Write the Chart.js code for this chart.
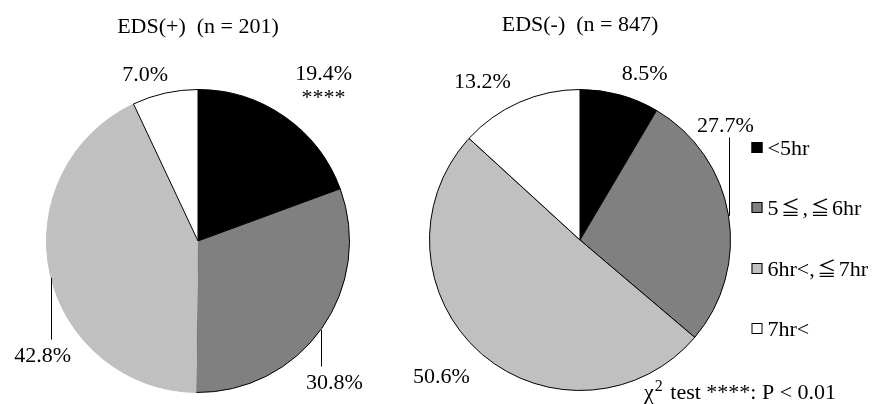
<!DOCTYPE html>
<html>
<head>
<meta charset="utf-8">
<script src="https://cdn.jsdelivr.net/npm/chart.js@4/dist/chart.umd.min.js"></script>
<style>
  html, body { margin: 0; padding: 0; background: #ffffff; }
  #wrap { position: relative; width: 875px; height: 404px; overflow: hidden; background: #fff; }
  #left { position: absolute; left: 0; top: 0; }
  #right { position: absolute; left: 400px; top: 0; }
</style>
</head>
<body>
<div id="wrap">
  <canvas id="left" width="437" height="404"></canvas>
  <canvas id="right" width="475" height="404"></canvas>
</div>
<script>
// ---- data ----
const categories = ['<5hr', '5\u2266,\u22666hr', '6hr<,\u22667hr', '7hr<'];
const edsPosValues = [19.4, 30.8, 42.8, 7.0];
const edsNegValues = [8.5, 27.7, 50.6, 13.2];
const edsPosTitle = 'EDS(+)  (n = 201)';
const edsNegTitle = 'EDS(-)  (n = 847)';
const edsPosMarks = ['****', '', '', ''];
const footnote = ' test ****: P < 0.01';

// ---- styles ----
const sliceColors = ['#000000', '#808080', '#c0c0c0', '#ffffff'];
const FONT = '22px "Liberation Serif", "Times New Roman", serif';
const CJK_FONT = '19px "Noto Sans CJK JP", "Noto Sans CJK SC", sans-serif';
const CJK_CELL = 24;

// label layout: offsets in units of pie radius from pie centre (text centre x, baseline y)
const leftLabelLayout = [
  {dx: 0.829, dy: -1.066},
  {dx: 0.901, dy: 0.974, lx: 0.809, leader: 'down'},
  {dx: -1.026, dy: 0.796, lx: -0.970, leader: 'down'},
  {dx: -0.349, dy: -1.059}
];
const rightLabelLayout = [
  {dx: 0.43, dy: -1.06},
  {dx: 0.967, dy: -0.715, lx: 0.987, leader: 'up'},
  {dx: -0.921, dy: 0.947},
  {dx: -0.649, dy: -1.007}
];

// draw text where full-width symbols occupy a full-width cell
function drawMixed(ctx, text, x, y) {
  let cx = x;
  for (const ch of text) {
    if (ch === '\u2266') {
      ctx.font = CJK_FONT;
      const w = ctx.measureText(ch).width;
      ctx.fillText(ch, cx + (CJK_CELL - w) / 2, y);
      cx += CJK_CELL;
    } else {
      ctx.font = FONT;
      ctx.fillText(ch, cx, y);
      cx += ctx.measureText(ch).width;
    }
  }
  ctx.font = FONT;
}

function labelPlugin(layout, title, titleBaselineOffset, marks) {
  return {
    id: 'pieLabels',
    afterDraw(chart) {
      const ctx = chart.ctx;
      const meta = chart.getDatasetMeta(0);
      const arc0 = meta.data[0];
      const cx = arc0.x, cy = arc0.y, r = arc0.outerRadius;
      const values = chart.data.datasets[0].data;
      ctx.save();
      ctx.font = FONT;
      ctx.fillStyle = '#000';
      ctx.textAlign = 'center';
      ctx.textBaseline = 'alphabetic';
      ctx.fillText(title, cx, cy - r + titleBaselineOffset);
      values.forEach((v, i) => {
        const L = layout[i];
        const tx = cx + L.dx * r, ty = cy + L.dy * r;
        ctx.fillText(v.toFixed(1) + '%', tx, ty);
        if (marks && marks[i]) ctx.fillText(marks[i], tx, ty + 24);
        if (L.leader) {
          const lx = cx + L.lx * r;
          const ddx = lx - cx;
          const h = Math.sqrt(Math.max(r * r - ddx * ddx, 0));
          ctx.beginPath();
          ctx.strokeStyle = '#000';
          ctx.lineWidth = 1;
          const px = Math.round(lx) + 0.5;
          if (L.leader === 'down') {
            ctx.moveTo(px, cy + h);
            ctx.lineTo(px, ty - 22);
          } else {
            ctx.moveTo(px, ty + 5);
            ctx.lineTo(px, cy - h);
          }
          ctx.stroke();
        }
      });
      ctx.restore();
    }
  };
}

const legendPlugin = {
  id: 'customLegend',
  afterDraw(chart) {
    const ctx = chart.ctx;
    const meta = chart.getDatasetMeta(0);
    const arc0 = meta.data[0];
    const cx = arc0.x, cy = arc0.y, r = arc0.outerRadius;
    ctx.save();
    ctx.font = FONT;
    ctx.textAlign = 'left';
    ctx.textBaseline = 'alphabetic';
    const x0 = cx + r + 21;
    const y0 = cy - 98;
    const step = 60.3;
    chart.data.labels.forEach((lab, i) => {
      const y = Math.round(y0 + i * step);
      ctx.fillStyle = sliceColors[i];
      ctx.fillRect(x0, y, 11, 11);
      ctx.strokeStyle = '#000';
      ctx.lineWidth = 1;
      ctx.strokeRect(x0 + 0.5, y + 0.5, 10, 10);
      ctx.fillStyle = '#000';
      drawMixed(ctx, lab, x0 + 16, y + 13);
    });
    // footnote with chi-square
    const fx = cx + 64, fy = chart.height - 5;
    ctx.font = FONT;
    ctx.fillText('\u03C7', fx, fy);
    const wChi = ctx.measureText('\u03C7').width;
    ctx.font = '16px "Liberation Serif", "Times New Roman", serif';
    ctx.fillText('2', fx + wChi + 1, fy - 8);
    const w2 = ctx.measureText('2').width;
    ctx.font = FONT;
    ctx.fillText(footnote, fx + wChi + w2 + 3, fy);
    ctx.restore();
  }
};

function makePie(id, values, borders, padding, plugins) {
  return new Chart(document.getElementById(id), {
    type: 'pie',
    data: {
      labels: categories,
      datasets: [{
        data: values,
        backgroundColor: sliceColors,
        borderColor: borders,
        borderWidth: 1
      }]
    },
    options: {
      responsive: false,
      animation: false,
      devicePixelRatio: 1,
      layout: { padding: padding },
      plugins: { legend: { display: false }, tooltip: { enabled: false }, title: { display: false } }
    },
    plugins: plugins
  });
}

makePie('left', edsPosValues, ['#000000', '#000000', '#c0c0c0', '#000000'],
  {left: 46, right: 87, top: 89, bottom: 11},
  [labelPlugin(leftLabelLayout, edsPosTitle, -57, edsPosMarks)]);

makePie('right', edsNegValues, ['#000000', '#000000', '#000000', '#000000'],
  {left: 29, right: 144, top: 89, bottom: 13},
  [labelPlugin(rightLabelLayout, edsNegTitle, -59, null), legendPlugin]);
</script>
</body>
</html>
